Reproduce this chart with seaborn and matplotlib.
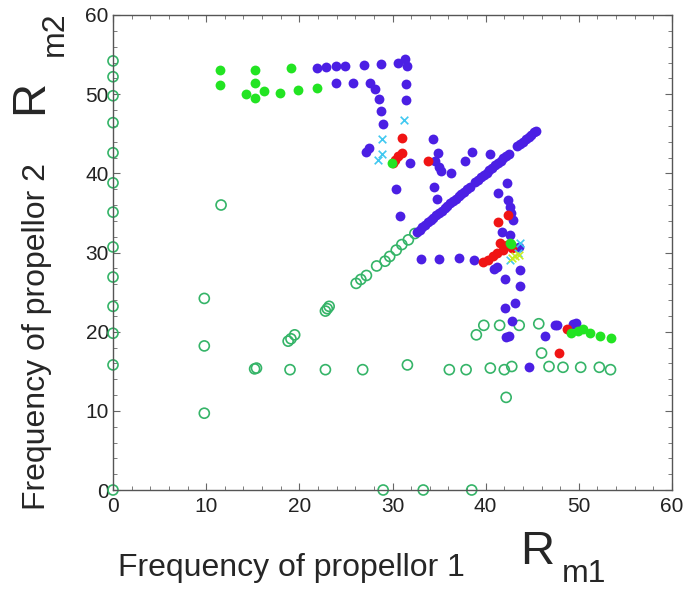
import numpy as np
import pandas as pd
import seaborn as sns
import matplotlib.pyplot as plt
from matplotlib.ticker import MultipleLocator

# 数据
blue_x = [21.9, 22.9, 23.9, 24.9, 26.9, 28.8, 30.6, 31.3, 31.6,
          23.9, 25.8, 27.6, 28.1, 28.6, 28.8, 29.0, 31.5, 31.5,
          27.2, 27.5, 30.4, 30.8, 31.9,
          34.3, 34.9, 34.6, 35.0, 35.2, 36.3, 34.5, 34.8, 37.8, 38.5, 40.5,
          42.3, 41.3, 42.4, 42.6, 42.7, 42.9, 41.8, 42.6, 43.6,
          33.1, 35.0, 37.1, 38.7, 40.9, 41.2, 42.1, 43.7, 43.7, 43.2, 42.1,
          42.8, 42.2, 42.5, 44.7, 46.4, 47.4, 47.7, 49.4, 49.7]
blue_y = [53.3, 53.4, 53.5, 53.5, 53.7, 53.8, 54.0, 54.4, 53.6,
          51.4, 51.4, 51.4, 50.6, 49.4, 47.9, 46.2, 51.3, 49.2,
          42.7, 43.2, 38.0, 34.6, 41.3,
          44.3, 42.6, 41.5, 40.8, 40.3, 40.0, 38.3, 36.7, 41.5, 42.7, 42.5,
          38.8, 37.5, 36.6, 35.8, 35.0, 34.1, 32.6, 32.2, 30.7,
          29.2, 29.2, 29.3, 29.1, 27.9, 28.2, 26.7, 27.8, 25.8, 23.6, 23.0,
          21.4, 19.3, 19.4, 15.5, 19.4, 20.8, 20.8, 21.0, 21.1]
diag_vals = [32.6, 32.9, 33.2, 33.5, 33.8, 34.1, 34.4, 34.7, 35.0, 35.3,
             35.6, 35.9, 36.2, 36.5, 36.8, 37.1, 37.4, 37.7, 38.0, 38.3,
             38.9, 39.2, 39.5, 39.8, 40.1, 40.4, 40.7, 41.0, 41.3, 41.6,
             41.9, 42.2, 42.5, 43.4, 43.7, 44.0, 44.3, 44.6, 44.9, 45.2, 45.4]
green_x = [11.5, 11.5, 15.2, 15.2, 14.3, 15.2, 16.2, 17.9, 19.9, 19.1, 21.9,
           29.9, 42.6, 42.7, 49.2, 49.9, 50.4, 51.2, 52.3, 53.4]
green_y = [53.0, 51.2, 53.1, 51.4, 50.0, 49.5, 50.4, 50.1, 50.5, 53.3, 50.8,
           41.3, 31.2, 31.1, 19.8, 20.1, 20.3, 19.8, 19.5, 19.2]
red_x = [31.0, 31.0, 30.6, 30.3, 30.1, 33.8, 42.4, 41.3, 41.5, 41.9, 41.2,
         40.8, 40.3, 39.7, 42.3, 42.8, 48.7, 47.9]
red_y = [44.5, 42.6, 42.2, 41.7, 41.3, 41.5, 34.7, 33.9, 31.2, 30.3, 29.9,
         29.5, 29.1, 28.8, 31.0, 30.6, 20.4, 17.3]
open_x = [0, 0, 0, 0, 0, 0, 0, 0, 0, 0, 0, 0, 0,
          9.8, 9.8, 9.8, 11.6,
          15.2, 15.4, 18.8, 19.1, 19.5, 22.8, 23.0, 23.2, 26.1, 26.6, 27.2,
          28.3, 29.2, 29.7, 30.4, 31.0, 31.7, 32.4,
          19.0, 22.8, 26.8, 31.6, 36.1, 37.9, 40.5, 42.0, 42.8, 46.8, 48.3,
          50.2, 52.2, 53.4, 39.8, 41.5, 43.6, 45.7, 39.0, 46.0, 42.2,
          29.0, 33.3, 38.5]
open_y = [54.2, 52.2, 49.8, 46.4, 42.6, 38.8, 35.1, 30.7, 26.9, 23.2, 19.8, 15.8, 0,
          9.7, 18.2, 24.2, 36.0,
          15.3, 15.4, 18.8, 19.1, 19.6, 22.6, 22.9, 23.2, 26.1, 26.6, 27.1,
          28.3, 28.9, 29.5, 30.3, 31.0, 31.6, 32.4,
          15.2, 15.2, 15.2, 15.8, 15.2, 15.2, 15.4, 15.2, 15.6, 15.6, 15.5,
          15.5, 15.5, 15.2, 20.8, 20.8, 20.8, 21.0, 19.6, 17.3, 11.7,
          0, 0, 0]
cyan_x = [31.2, 28.9, 28.9, 28.4, 42.6, 43.5, 43.7]
cyan_y = [46.8, 44.3, 42.5, 41.7, 29.0, 29.9, 31.2]
yellow_x = [42.8, 43.1, 43.6]
yellow_y = [29.3, 29.5, 29.7]

sns.set_style("ticks")
plt.rcParams['font.family'] = ['Liberation Sans', 'DejaVu Sans']

fig = plt.figure(figsize=(6.86, 5.90), dpi=100)
ax = fig.add_axes([113 / 686, 100 / 590, 559 / 686, 475 / 590])

dot = dict(s=50, linewidth=0, legend=False, ax=ax, clip_on=False)
sns.scatterplot(x=open_x, y=open_y, marker='o', s=52, facecolor='none',
                edgecolor='#35b468', linewidth=1.2, legend=False, ax=ax, clip_on=False)
sns.scatterplot(x=blue_x, y=blue_y, color='#4b1fe4', **dot)
sns.scatterplot(x=diag_vals, y=diag_vals, color='#4b1fe4', **dot)
sns.scatterplot(x=red_x, y=red_y, color='#f01414', **dot)
sns.scatterplot(x=green_x, y=green_y, color='#22e422', **dot)
sns.scatterplot(x=cyan_x, y=cyan_y, marker='x', s=30, color='#40c8f0', linewidth=1.2,
                legend=False, ax=ax)
sns.scatterplot(x=yellow_x, y=yellow_y, marker='x', s=30, color='#c8ee20', linewidth=1.2,
                legend=False, ax=ax)

ax.set_xlim(0, 60)
ax.set_ylim(0, 60)
ax.set_xticks(range(0, 61, 10))
ax.set_yticks(range(0, 61, 10))
ax.xaxis.set_minor_locator(MultipleLocator(2))
ax.yaxis.set_minor_locator(MultipleLocator(2))
ax.tick_params(which='both', direction='in', top=True, right=True, color='#666666',
               labelsize=15, labelcolor='#222222')
ax.tick_params(axis='x', pad=5)
ax.tick_params(axis='y', pad=3)
ax.tick_params(which='major', length=5)
ax.tick_params(which='minor', length=3)
for sp in ax.spines.values():
    sp.set_color('#555555')
    sp.set_linewidth(1)
    sp.set_visible(True)

# 轴标签
fig.text(118 / 686, 14 / 590, 'Frequency of propellor 1', fontsize=23, ha='left', va='baseline')
fig.text(520 / 686, 26 / 590, 'R', fontsize=34, ha='left', va='baseline')
fig.text(562 / 686, 8 / 590, 'm1', fontsize=23, ha='left', va='baseline')
fig.text(52 / 686, 1 - 510 / 590, 'Frequency of propellor 2', fontsize=23, rotation=90,
         ha='right', va='bottom')
fig.text(52 / 686, 1 - 114 / 590, 'R', fontsize=34, rotation=90, ha='right', va='bottom')
fig.text(70 / 686, 1 - 56 / 590, 'm2', fontsize=23, rotation=90, ha='right', va='bottom')

plt.savefig('out.png', dpi=100)
